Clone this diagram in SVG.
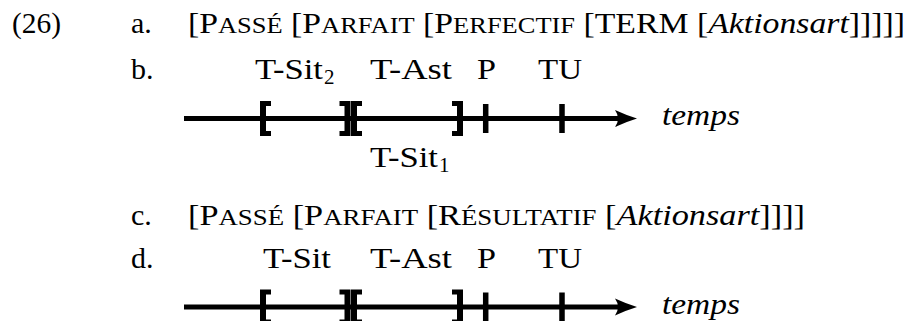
<svg xmlns="http://www.w3.org/2000/svg" xmlns:xlink="http://www.w3.org/1999/xlink" width="906" height="321" viewBox="0 0 906 321">
<style>
  text { font-family: "Liberation Serif", "DejaVu Serif", serif; font-size: 30px; fill: #000; }
  .s { font-size: 23.5px; }
  .it { font-style: italic; }
  .sub { font-size: 21px; }
  .axis { stroke: #000; stroke-width: 5; fill: none; marker-end: url(#arr); }
  .mk { fill: #000; }
</style>
<defs>
  <marker id="arr" viewBox="-23 -10 24 20" refX="-10" refY="0" markerWidth="24" markerHeight="20" orient="auto" markerUnits="userSpaceOnUse">
    <path d="M0,0 Q-10,-3 -22,-8.5 Q-16,0 -22,8.5 Q-10,3 0,0 Z" fill="#000"/>
  </marker>
  <path id="lb" d="M0,-17.5 H11 V-12.5 H6 V12.5 H11 V17.5 H0 Z"/>
  <path id="rb" d="M0,-17.5 H-11 V-12.5 H-6 V12.5 H-11 V17.5 H0 Z"/>
  <rect id="tick" x="-2.75" y="-14.5" width="5.5" height="29"/>
</defs>

<g id="example-number">
  <text x="12" y="33" textLength="49" lengthAdjust="spacingAndGlyphs">(26)</text>
</g>

<g id="line-a">
  <text x="131" y="33">a.</text>
  <text x="188" y="33" textLength="717" lengthAdjust="spacingAndGlyphs">[P<tspan class="s">ASSÉ</tspan> [P<tspan class="s">ARFAIT</tspan> [P<tspan class="s">ERFECTIF</tspan> [TERM [<tspan class="it">Aktionsart</tspan>]]]]]</text>
</g>

<g id="line-b">
  <text x="131" y="79">b.</text>
  <text x="255" y="79" textLength="68" lengthAdjust="spacingAndGlyphs">T-Sit</text><text class="sub" x="324" y="84">2</text>
  <text x="370" y="79" textLength="82" lengthAdjust="spacingAndGlyphs">T-Ast</text>
  <text x="477" y="79" textLength="19" lengthAdjust="spacingAndGlyphs">P</text>
  <text x="538" y="79" textLength="44" lengthAdjust="spacingAndGlyphs">TU</text>
  <text x="370" y="167" textLength="68" lengthAdjust="spacingAndGlyphs">T-Sit</text><text class="sub" x="439" y="172">1</text>
  <text class="it" x="662" y="125" textLength="78" lengthAdjust="spacingAndGlyphs">temps</text>
</g>

<g id="line-c">
  <text x="131" y="225">c.</text>
  <text x="188" y="225" textLength="617" lengthAdjust="spacingAndGlyphs">[P<tspan class="s">ASSÉ</tspan> [P<tspan class="s">ARFAIT</tspan> [R<tspan class="s">ÉSULTATIF</tspan> [<tspan class="it">Aktionsart</tspan>]]]]</text>
</g>

<g id="line-d">
  <text x="131" y="268">d.</text>
  <text x="263" y="268" textLength="68" lengthAdjust="spacingAndGlyphs">T-Sit</text>
  <text x="370" y="268" textLength="82" lengthAdjust="spacingAndGlyphs">T-Ast</text>
  <text x="477" y="268" textLength="19" lengthAdjust="spacingAndGlyphs">P</text>
  <text x="538" y="268" textLength="44" lengthAdjust="spacingAndGlyphs">TU</text>
  <text class="it" x="662" y="314" textLength="78" lengthAdjust="spacingAndGlyphs">temps</text>
</g>

<g id="connectors">
  <path class="axis" d="M184,118.5 H627"/>
  <path class="axis" d="M184,307 H627"/>
</g>

<g id="marks-b" class="mk">
  <use xlink:href="#lb" x="260" y="118.5"/>
  <use xlink:href="#rb" x="350.5" y="118.5"/>
  <use xlink:href="#lb" x="351" y="118.5"/>
  <use xlink:href="#rb" x="463" y="118.5"/>
  <use xlink:href="#tick" x="485.7" y="118.5"/>
  <use xlink:href="#tick" x="562" y="118.5"/>
</g>

<g id="marks-d" class="mk">
  <use xlink:href="#lb" x="260" y="307"/>
  <use xlink:href="#rb" x="350.5" y="307"/>
  <use xlink:href="#lb" x="351" y="307"/>
  <use xlink:href="#rb" x="463" y="307"/>
  <use xlink:href="#tick" x="485.7" y="307"/>
  <use xlink:href="#tick" x="562" y="307"/>
</g>
</svg>
